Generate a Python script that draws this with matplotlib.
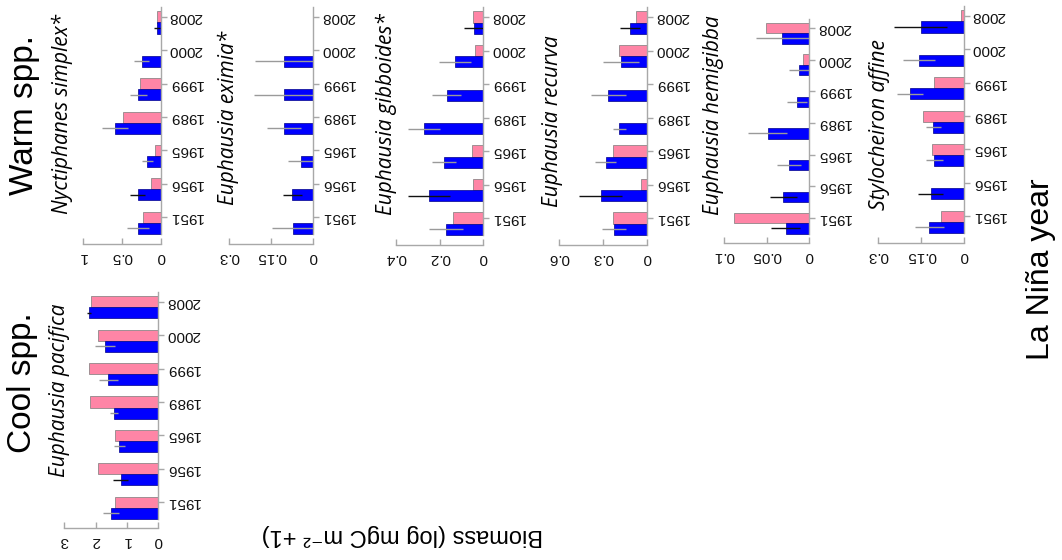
import matplotlib
matplotlib.use("Agg")
import matplotlib.pyplot as plt
import numpy as np

plt.rcParams["font.family"] = ["Liberation Sans", "DejaVu Sans"]

# La Niña years, bottom to top
years = ["1951", "1956", "1965", "1989", "1999", "2000", "2008"]

# Biomass (log mgC m-2 + 1): pink = first series, blue = second series, err = blue error
simplex_pink = [0.23, 0.13, 0.077, 0.49, 0.27, 0.0, 0.055]
simplex_blue = [0.29, 0.30, 0.175, 0.59, 0.29, 0.25, 0.055]
simplex_err = [0.14, 0.10, 0.07, 0.17, 0.11, 0.10, 0.04]

eximia_pink = [0.0, 0.0, 0.0, 0.0, 0.0, 0.0, 0.0]
eximia_blue = [0.074, 0.075, 0.045, 0.105, 0.105, 0.105, 0.0]
eximia_err = [0.075, 0.034, 0.044, 0.06, 0.106, 0.104, 0.0]

gibboides_pink = [0.138, 0.046, 0.05, 0.0, 0.0, 0.038, 0.046]
gibboides_blue = [0.171, 0.249, 0.179, 0.27, 0.168, 0.13, 0.043]
gibboides_err = [0.078, 0.095, 0.055, 0.073, 0.066, 0.072, 0.044]

recurva_pink = [0.232, 0.043, 0.232, 0.0, 0.0, 0.19, 0.077]
recurva_blue = [0.225, 0.318, 0.284, 0.19, 0.266, 0.18, 0.118]
recurva_err = [0.082, 0.145, 0.073, 0.045, 0.118, 0.125, 0.068]

hemigibba_pink = [0.088, 0.0, 0.0, 0.0, 0.0, 0.007, 0.0507]
hemigibba_blue = [0.0277, 0.0305, 0.0238, 0.049, 0.014, 0.0117, 0.0316]
hemigibba_err = [0.0172, 0.0156, 0.0137, 0.0234, 0.0117, 0.0117, 0.031]

affine_pink = [0.082, 0.0, 0.113, 0.145, 0.104, 0.0, 0.0117]
affine_blue = [0.121, 0.117, 0.104, 0.107, 0.189, 0.158, 0.152]
affine_err = [0.05, 0.043, 0.03, 0.027, 0.046, 0.055, 0.093]

pacifica_pink = [1.38, 1.91, 1.38, 2.17, 2.2, 1.91, 2.15]
pacifica_blue = [1.52, 1.20, 1.24, 1.41, 1.59, 1.70, 2.2]
pacifica_err = [0.26, 0.23, 0.17, 0.13, 0.29, 0.32, 0.06]

x_ticks = {
    "simplex": ["0", "0.5", "1"],
    "eximia": ["0", "0.15", "0.3"],
    "gibboides": ["0", "0.2", "0.4"],
    "recurva": ["0", "0.3", "0.6"],
    "hemigibba": ["0", "0.05", "0.1"],
    "affine": ["0", "0.15", "0.3"],
    "pacifica": ["0", "1", "2", "3"],
}

W, H = 1062, 560
PINK = "#ff85a6"
BLUE = "#0000ff"
SPINE = "#a8a8a8"

fig = plt.figure(figsize=(W / 100, H / 100), dpi=100)

# panel geometry in pixels: left (max value), zero line, 1951 row, 2008 row, axis line
panels = [
    ("simplex", simplex_pink, simplex_blue, simplex_err, (83, 161, 217, 17, 244), ["1956", "2008"]),
    ("eximia", eximia_pink, eximia_blue, eximia_err, (229.3, 313.3, 217, 17, 244), ["1956"]),
    ("gibboides", gibboides_pink, gibboides_blue, gibboides_err, (396, 483.3, 218, 17, 245), ["1956", "2008"]),
    ("recurva", recurva_pink, recurva_blue, recurva_err, (559.3, 647.3, 218, 17, 245), ["1956", "2008"]),
    ("hemigibba", hemigibba_pink, hemigibba_blue, hemigibba_err, (724, 809.3, 218, 28, 243), ["1951", "1956"]),
    ("affine", affine_pink, affine_blue, affine_err, (878.3, 964, 216, 16, 243), ["1956", "2008"]),
    ("pacifica", pacifica_pink, pacifica_blue, pacifica_err, (64.3, 158.3, 502.3, 301.7, 528.3), ["1956", "2008"]),
]

bar_h = 0.33
for name, pink, blue, err, (xl, xz, y0, y6, yb), dark_years in panels:
    step = (y0 - y6) / 6
    ytop = y6 - 16
    ax = fig.add_axes([xl / W, 1 - yb / H, (xz - xl) / W, (yb - ytop) / H])
    ax.patch.set_alpha(0)
    labels = x_ticks[name]
    vals = [float(t) for t in labels]
    ax.set_xlim(vals[-1], 0)
    ax.set_ylim(-(yb - y0) / step, 6 + (y6 - ytop) / step)

    pos = np.arange(len(years))
    pink = np.array(pink)
    blue = np.array(blue)
    err = np.array(err)
    ax.barh(pos, pink, height=bar_h, color=PINK, edgecolor="#7a7a7a", linewidth=0.5)
    ax.barh(pos - bar_h, blue, height=bar_h, color=BLUE, edgecolor="#00008a", linewidth=0.5)
    ecol = ["#111111" if y in dark_years else "#9a9a9a" for y in years]
    keep = err > 0
    ax.hlines((pos - bar_h)[keep], (blue - err)[keep], (blue + err)[keep],
              colors=np.array(ecol)[keep], linewidth=1.0, zorder=3)

    for s in ("top", "left"):
        ax.spines[s].set_visible(False)
    for s in ("right", "bottom"):
        ax.spines[s].set_color(SPINE)
        ax.spines[s].set_linewidth(1.0)
    ax.spines["right"].set_bounds(-0.5, 6.3)

    ax.yaxis.tick_right()
    ax.set_yticks(pos)
    ax.set_yticklabels(years, rotation=180, va="center", fontsize=11, color="#111111")
    ax.set_xticks(vals)
    ax.set_xticklabels(labels, rotation=180, fontsize=11, color="#111111")
    ax.tick_params(axis="y", length=4, width=1, color=SPINE, pad=1.5)
    ax.tick_params(axis="x", direction="in", length=4, width=1, color=SPINE, pad=4)

# species names
species = [
    ("Nyctiphanes simplex*", 62, 113.5),
    ("Euphausia eximia*", 228.5, 117.5),
    ("Euphausia gibboides*", 386, 114.5),
    ("Euphausia recurva", 552.5, 121),
    ("Euphausia hemigibba", 713, 115),
    ("Stylocheiron affine", 880, 125),
    ("Euphausia pacifica", 60, 390.5),
]
for txt, x, y in species:
    fig.text(x / W, 1 - y / H, txt, rotation=90, ha="center", va="center",
             fontsize=15, style="italic", family=["Open Sans", "DejaVu Sans"])

fig.text(25 / W, 1 - 115 / H, "Warm spp.", rotation=90, ha="center", va="center", fontsize=24)
fig.text(23 / W, 1 - 383 / H, "Cool spp.", rotation=90, ha="center", va="center", fontsize=24)
fig.text(1041 / W, 1 - 269 / H, "La Niña year", rotation=90, ha="center", va="center", fontsize=23)
fig.text(402 / W, 1 - 535 / H, "Biomass (log mgC m\u207b\u00b2 +1)", rotation=180,
         ha="center", va="center", fontsize=17)

fig.savefig("out.png", dpi=100)
